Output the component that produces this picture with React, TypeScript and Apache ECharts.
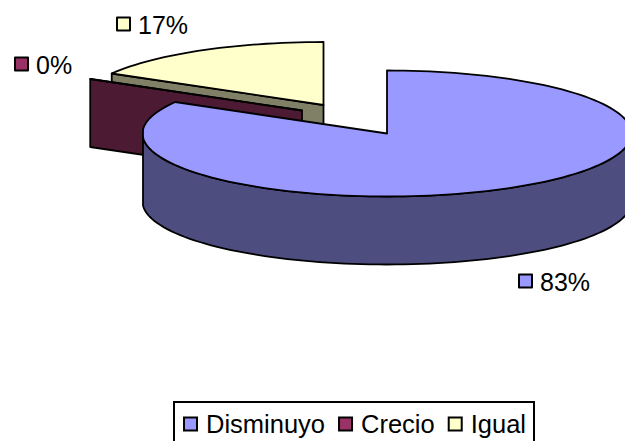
import React, { useEffect, useRef } from "react";
import * as echarts from "echarts";

const categories = ["Disminuyo", "Crecio", "Igual"];
const values = [83.33, 0, 16.67];
const topColors = ["#9999FF", "#993366", "#FFFFCC"];
const wallColors = ["#4D4D80", "#4D1A33", "#808066"];
// Exploded offset of each slice from the pie centre, in pixels
const offsets = [[0, 0], [-85, -23], [-63.5, -28.5]];
// Where each data label (swatch left, centre y) sits
const labelAnchors = [[518, 282], [14, 65], [116, 25]];
const drawOrder = [2, 1, 0]; // z rank per category: Igual back, Crecio middle, Disminuyo front

const CX = 387, CY = 133.5, RX = 244.5, RY = 63, DEPTH = 68, PLOT_HALF_WIDTH = 244;
const FONT = "25px 'Liberation Sans', Arial, sans-serif";
const total = values.reduce((a, b) => a + b, 0);

function rimPoints(a0: number, a1: number, ox: number, oy: number, dy = 0) {
  const pts: number[][] = [];
  const n = Math.max(1, Math.ceil(Math.abs(a1 - a0) / 2));
  for (let i = 0; i <= n; i++) {
    const a = ((a0 + ((a1 - a0) * i) / n) * Math.PI) / 180;
    const dx = Math.max(-PLOT_HALF_WIDTH, Math.min(PLOT_HALF_WIDTH, RX * Math.sin(a)));
    pts.push([CX + ox + dx, CY + oy - RY * Math.cos(a) + dy]);
  }
  return pts;
}

function makeRender(idx: number) {
  return (_params: any, api: any) => {
    const v = api.value(0) as number;
    const before = values.slice(0, idx).reduce((a, b) => a + b, 0);
    const a0 = (before / total) * 360;
    const a1 = ((before + v) / total) * 360;
    const [ox, oy] = offsets[idx];
    const lineStyle = { stroke: "#000", lineWidth: 1.8, lineJoin: "round" as const };
    const apex = [CX + ox, CY + oy];
    const children: any[] = [];

    // outer wall: front half of the rim
    const w0 = Math.max(a0, 90), w1 = Math.min(a1, 270);
    if (w1 > w0) {
      const top = rimPoints(w0, w1, ox, oy);
      const bottom = rimPoints(w0, w1, ox, oy, DEPTH).reverse();
      children.push({ type: "polygon", shape: { points: [...top, ...bottom] }, style: { fill: wallColors[idx], ...lineStyle } });
    }
    // radial wall seen from the front, under the slice's first radius
    if (a0 > 180) {
      const rim = rimPoints(a0, a0, ox, oy)[0];
      children.push({
        type: "polygon",
        shape: { points: [apex, rim, [rim[0], rim[1] + DEPTH], [apex[0], apex[1] + DEPTH]] },
        style: { fill: wallColors[idx], ...lineStyle },
      });
    }
    // top face
    children.push({
      type: "polygon",
      shape: { points: [apex, ...rimPoints(a0, a1, ox, oy)] },
      style: { fill: topColors[idx], ...lineStyle },
    });
    // data label with its legend key
    const [lx, ly] = labelAnchors[idx];
    children.push({
      type: "rect",
      shape: { x: lx + 1, y: ly - 7.5, width: 13, height: 13 },
      style: { fill: topColors[idx], ...lineStyle, lineWidth: 2 },
    });
    children.push({
      type: "text",
      style: {
        text: Math.round((v / total) * 100) + "%",
        x: lx + 22,
        y: ly,
        font: FONT,
        fill: "#000",
        verticalAlign: "middle",
        align: "left",
      },
    });
    return { type: "group", children };
  };
}

export default function App() {
  const ref = useRef<HTMLDivElement>(null);
  useEffect(() => {
    document.body.style.margin = "0";
    const chart = echarts.init(ref.current!, undefined, { renderer: "svg" });
    chart.setOption({
      animation: false,
      backgroundColor: "#fff",
      legend: {
        data: categories,
        left: 174,
        top: 402,
        orient: "horizontal",
        padding: [9, 8, 20, 9],
        itemWidth: 13,
        itemHeight: 13,
        itemGap: 13,
        icon: "rect",
        borderColor: "#000",
        borderWidth: 2,
        borderRadius: 0,
        selectedMode: false,
        itemStyle: { borderColor: "#000", borderWidth: 2 },
        textStyle: {
          fontFamily: "'Liberation Sans', Arial, sans-serif",
          fontSize: 25.5,
          color: "#000",
          padding: [0, 0, 0, 4],
        },
      },
      series: categories.map((name, i) => ({
        type: "custom",
        name,
        coordinateSystem: "none",
        silent: true,
        z: drawOrder[i],
        itemStyle: { color: topColors[i] },
        data: [[values[i]]],
        renderItem: makeRender(i),
      })),
    });
    return () => chart.dispose();
  }, []);
  return <div ref={ref} style={{ position: "fixed", left: 0, top: 0, width: 625, height: 441 }} />;
}
